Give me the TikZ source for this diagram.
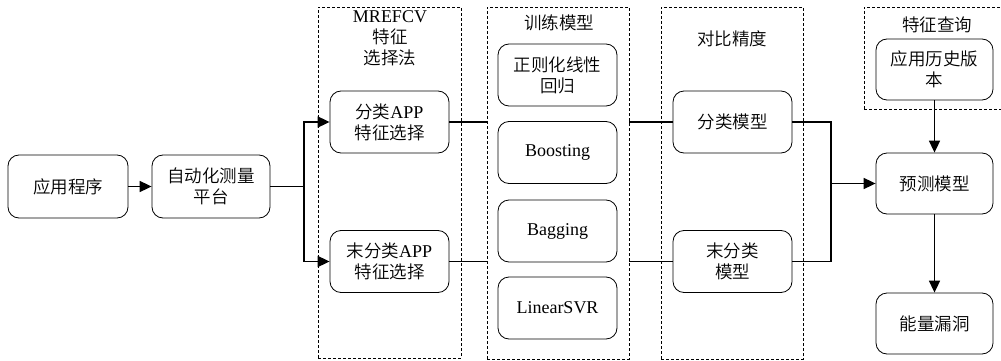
\documentclass[tikz,border=0pt]{standalone}
\usepackage{fontspec}
\setmainfont{Liberation Serif}
\newfontfamily\cjk{Noto Sans CJK SC}[UprightFont={* DemiLight}]
\newfontfamily\lat{Liberation Serif}
\usetikzlibrary{arrows.meta}
\begin{document}
\begin{tikzpicture}[x=1pt,y=-1pt,
  font=\cjk\fontsize{17.5}{21}\selectfont,
  box/.style={draw, line width=0.8pt, rounded corners=11pt, align=center, inner sep=0pt},
  bsz/.style={minimum width=119pt, minimum height=62pt},
  dbox/.style={draw, line width=0.9pt, dash pattern=on 3pt off 2pt, inner sep=0pt},
  conn/.style={line width=1.7pt},
  arr/.style={line width=1.7pt, -{Triangle[length=12pt,width=11pt]}},
  ttl/.style={align=center, inner sep=0pt}
]
\useasboundingbox (0,0) rectangle (1001,361);
% dashed groups
\node[dbox, minimum width=143pt, minimum height=351pt] (D1) at (389.5,182.5) {};
\node[dbox, minimum width=142pt, minimum height=352pt] (D2) at (558,183) {};
\node[dbox, minimum width=142pt, minimum height=352pt] (D3) at (732,183) {};
\node[dbox, minimum width=142pt, minimum height=102pt] (D4) at (935,58) {};
% titles
\node[ttl] (t1) at (390,38) {{\lat\fontsize{18}{21}\selectfont MREFCV}\\特征\\选择法};
\node[ttl] (t2) at (559,23) {训练模型};
\node[ttl] (t3) at (732,39) {对比精度};
\node[ttl] (t4) at (937,25) {特征查询};
% boxes
\node[box, minimum width=120pt, minimum height=63pt] (app) at (68,186.5) {应用程序};
\node[box, minimum width=118pt, minimum height=63pt] (auto) at (211,186.5) {自动化测量\\平台};
\node[box, bsz] (cls) at (389.5,122) {分类{\lat\fontsize{18}{21}\selectfont APP}\\特征选择};
\node[box, bsz] (ucls) at (389.5,261.5) {末分类{\lat\fontsize{18}{21}\selectfont APP}\\特征选择};
\node[box, bsz] (r1) at (557.5,75) {正则化线性\\回归};
\node[box, bsz, font=\lat\fontsize{18}{21}\selectfont] (r2) at (557.5,152.5) {Boosting};
\node[box, bsz, font=\lat\fontsize{18}{21}\selectfont] (r3) at (557.5,231) {Bagging};
\node[box, bsz, font=\lat\fontsize{18}{21}\selectfont] (r4) at (557.5,308) {LinearSVR};
\node[box, bsz] (cm) at (732.5,122) {分类模型};
\node[box, bsz] (ucm) at (732.5,261.5) {末分类\\模型};
\node[box, minimum width=117pt, minimum height=61pt] (hist) at (934.5,69.5) {应用历史版\\本};
\node[box, minimum width=117pt, minimum height=61pt] (pred) at (934.5,183.5) {预测模型};
\node[box, minimum width=117pt, minimum height=61pt] (leak) at (934.5,323.5) {能量漏洞};
% connectors
\draw[arr] (app) -- (auto);
\coordinate (s1) at (304,186.5);
\draw[conn] (auto.east) -- (s1);
\draw[arr] (s1) |- (cls.west);
\draw[arr] (s1) |- (ucls.west);
\draw[conn] (cls.east) -- (cls.east -| D2.west);
\draw[conn] (ucls.east) -- (ucls.east -| D2.west);
\draw[conn] (cm.west -| D2.east) -- (cm.west);
\draw[conn] (ucm.west -| D2.east) -- (ucm.west);
\coordinate (j) at (831,183.5);
\draw[conn] (cm.east) -| (j);
\draw[conn] (ucm.east) -| (j);
\draw[arr] (j) -- (pred.west);
\draw[arr] (hist) -- (pred);
\draw[arr] (pred) -- (leak);
\end{tikzpicture}
\end{document}
